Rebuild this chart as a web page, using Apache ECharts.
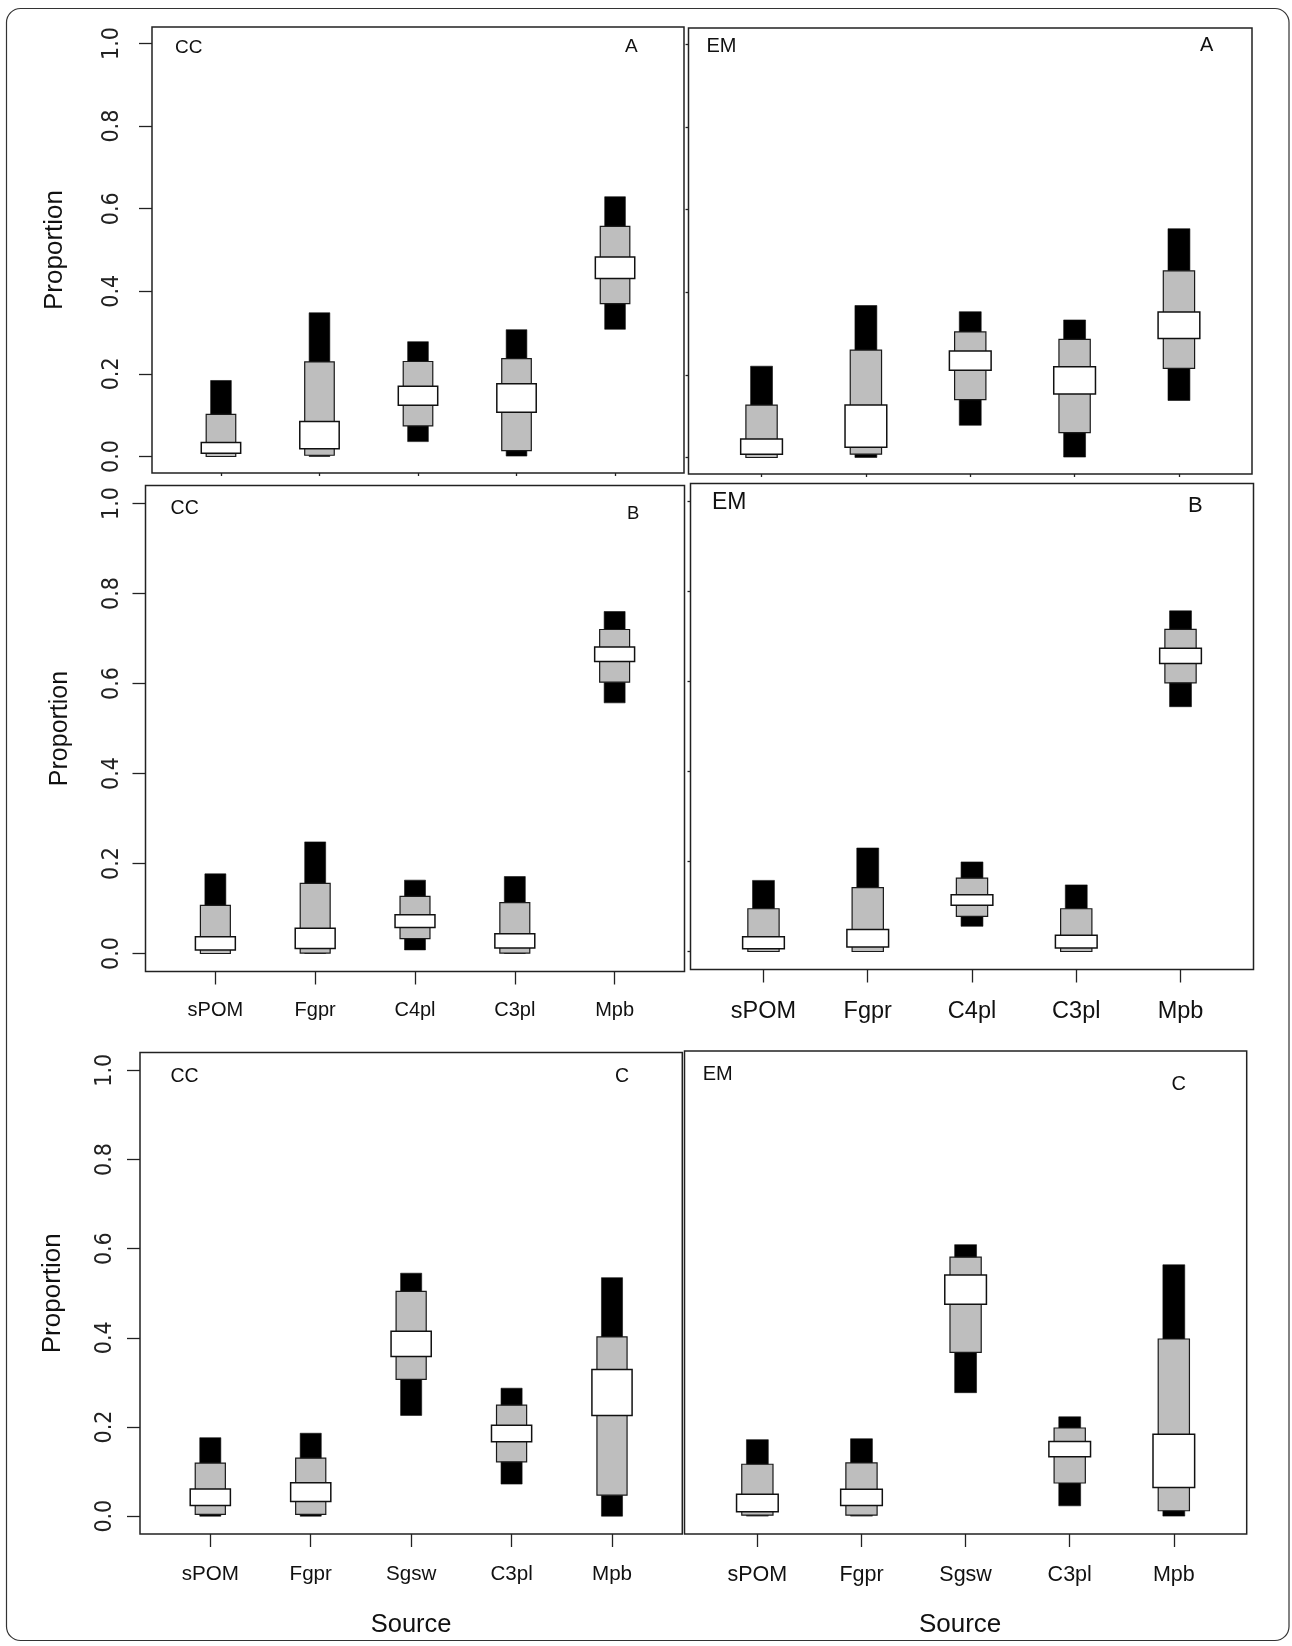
<!DOCTYPE html>
<html>
<head>
<meta charset="utf-8">
<script src="https://cdn.jsdelivr.net/npm/echarts@6/dist/echarts.min.js"></script>
<style>
  html, body { margin: 0; padding: 0; background: #fff; }
  #chart { width: 1292px; height: 1646px; }
</style>
</head>
<body>
<div id="chart"></div>
<script>
// ---------------- data ----------------
const catsAB = ['sPOM', 'Fgpr', 'C4pl', 'C3pl', 'Mpb'];
const catsC  = ['sPOM', 'Fgpr', 'Sgsw', 'C3pl', 'Mpb'];
const xPositions = [1, 2, 3, 4, 5];
const yTicks = [0, 0.2, 0.4, 0.6, 0.8, 1.0];

// credible intervals [low, high] per source: outer (black), middle (grey), inner (white)
const ccA_outer = [[0.000, 0.184], [0.000, 0.348], [0.036, 0.278], [0.001, 0.307], [0.308, 0.629]];
const ccA_mid   = [[0.000, 0.102], [0.003, 0.229], [0.074, 0.230], [0.014, 0.237], [0.370, 0.557]];
const ccA_inner = [[0.008, 0.034], [0.019, 0.085], [0.124, 0.170], [0.107, 0.176], [0.431, 0.483]];

const emA_outer = [[0.000, 0.221], [0.000, 0.368], [0.078, 0.353], [0.001, 0.333], [0.138, 0.554]];
const emA_mid   = [[0.000, 0.127], [0.008, 0.260], [0.140, 0.304], [0.060, 0.286], [0.216, 0.452]];
const emA_inner = [[0.008, 0.045], [0.025, 0.127], [0.211, 0.258], [0.154, 0.220], [0.288, 0.352]];

const ccB_outer = [[0.000, 0.177], [0.000, 0.248], [0.008, 0.163], [0.000, 0.171], [0.557, 0.760]];
const ccB_mid   = [[0.000, 0.107], [0.001, 0.156], [0.033, 0.127], [0.001, 0.113], [0.603, 0.720]];
const ccB_inner = [[0.008, 0.037], [0.011, 0.056], [0.058, 0.086], [0.012, 0.044], [0.649, 0.681]];

const emB_outer = [[0.000, 0.158], [0.000, 0.230], [0.056, 0.199], [0.000, 0.148], [0.544, 0.757]];
const emB_mid   = [[0.000, 0.095], [0.000, 0.142], [0.078, 0.163], [0.000, 0.095], [0.597, 0.716]];
const emB_inner = [[0.006, 0.033], [0.010, 0.049], [0.103, 0.126], [0.008, 0.036], [0.640, 0.674]];

const ccC_outer = [[0.000, 0.176], [0.000, 0.186], [0.226, 0.545], [0.072, 0.287], [0.000, 0.535]];
const ccC_mid   = [[0.004, 0.119], [0.004, 0.130], [0.307, 0.504], [0.122, 0.249], [0.047, 0.402]];
const ccC_inner = [[0.024, 0.061], [0.033, 0.075], [0.358, 0.415], [0.167, 0.204], [0.226, 0.329]];

const emC_outer = [[0.000, 0.171], [0.000, 0.173], [0.276, 0.607], [0.023, 0.222], [0.000, 0.562]];
const emC_mid   = [[0.002, 0.116], [0.002, 0.119], [0.366, 0.579], [0.074, 0.197], [0.012, 0.396]];
const emC_inner = [[0.010, 0.049], [0.024, 0.060], [0.474, 0.539], [0.133, 0.167], [0.064, 0.183]];

const siteLabels  = ['CC', 'EM', 'CC', 'EM', 'CC', 'EM'];
const panelLabels = ['A', 'A', 'B', 'B', 'C', 'C'];
const yName = 'Proportion';
const xName = 'Source';

// ---------------- layout ----------------
const FONT = 'Liberation Sans, Arial, Helvetica, sans-serif';
const NARROW = '"Liberation Sans Narrow", "Arial Narrow", "DejaVu Sans Condensed", "Liberation Sans", Arial, sans-serif';
const panels = [
  { grid: { left: 152, top: 27, width: 532, height: 446 }, cats: catsAB,
    outer: ccA_outer, mid: ccA_mid, inner: ccA_inner,
    y: { labels: true, tick: 13, margin: 28.3, fs: 23, nameGap: 84, nameFs: 26 },
    x: { labels: false, tick: 3 },
    t1: { left: 175, top: 38.2, fs: 19 }, t2: { left: 625, top: 37.7, fs: 19 } },
  { grid: { left: 688.5, top: 28, width: 563.5, height: 446 }, cats: catsAB,
    outer: emA_outer, mid: emA_mid, inner: emA_inner,
    y: { labels: false, tick: 3 },
    x: { labels: false, tick: 3 },
    t1: { left: 706.5, top: 36.4, fs: 20 }, t2: { left: 1200, top: 35.4, fs: 20 } },
  { grid: { left: 145.5, top: 485.5, width: 539, height: 486 }, cats: catsAB,
    outer: ccB_outer, mid: ccB_mid, inner: ccB_inner,
    y: { labels: true, tick: 13, margin: 22, fs: 23, nameGap: 72.6, nameFs: 25 },
    x: { labels: true, tick: 13, margin: 28.6, fs: 20 },
    t1: { left: 170.6, top: 498.6, fs: 19.5 }, t2: { left: 627, top: 504, fs: 18.5 } },
  { grid: { left: 690.5, top: 483.5, width: 563, height: 486 }, cats: catsAB,
    outer: emB_outer, mid: emB_mid, inner: emB_inner,
    y: { labels: false, tick: 3 },
    x: { labels: true, tick: 13, margin: 30.3, fs: 23.5 },
    t1: { left: 712, top: 491, fs: 23 }, t2: { left: 1188, top: 494.8, fs: 22 } },
  { grid: { left: 140, top: 1052.5, width: 542.3, height: 481.5 }, cats: catsC,
    outer: ccC_outer, mid: ccC_mid, inner: ccC_inner,
    y: { labels: true, tick: 13, margin: 23.4, fs: 23, nameGap: 74, nameFs: 26 },
    x: { labels: true, tick: 13, margin: 30, fs: 20.6, name: true, nameGap: 78, nameFs: 25.5, namePad: [0, 0, 0, 0] },
    t1: { left: 170.5, top: 1066.7, fs: 19.5 }, t2: { left: 615, top: 1066.7, fs: 19.5 } },
  { grid: { left: 684.5, top: 1051, width: 562.2, height: 483 }, cats: catsC,
    outer: emC_outer, mid: emC_mid, inner: emC_inner,
    y: { labels: false, tick: 0 },
    x: { labels: true, tick: 13, margin: 30, fs: 21.5, name: true, nameGap: 78, nameFs: 26, namePad: [0, 11, 0, 0] },
    t1: { left: 702.7, top: 1064, fs: 20 }, t2: { left: 1171.5, top: 1074.5, fs: 20 } }
];

const grids = [], xAxes = [], yAxes = [], series = [], titles = [];

function boxSeries(idx, intervals, halfWidth, fill, stroke, lw) {
  return {
    type: 'custom',
    xAxisIndex: idx,
    yAxisIndex: idx,
    silent: true,
    animation: false,
    clip: false,
    encode: { x: 0, y: [1, 2] },
    data: intervals.map((iv, i) => [xPositions[i], iv[0], iv[1]]),
    renderItem: function (params, api) {
      const x = api.value(0), lo = api.value(1), hi = api.value(2);
      const p1 = api.coord([x - halfWidth, hi]);
      const p2 = api.coord([x + halfWidth, lo]);
      return {
        type: 'rect',
        shape: { x: p1[0], y: p1[1], width: p2[0] - p1[0], height: p2[1] - p1[1] },
        style: { fill: fill, stroke: stroke, lineWidth: lw }
      };
    }
  };
}

panels.forEach((p, i) => {
  grids.push(Object.assign({ show: true, borderColor: '#222', borderWidth: 1.5,
    backgroundColor: 'transparent', outerBoundsMode: 'none', containLabel: false }, p.grid));

  const cats = p.cats;
  xAxes.push({
    gridIndex: i, type: 'value', min: 0.3, max: 5.7, position: 'bottom',
    axisLine: { show: false, onZero: false }, splitLine: { show: false },
    axisTick: { show: p.x.tick > 0, length: p.x.tick, customValues: xPositions,
      lineStyle: { color: '#222', width: 1.3 } },
    axisLabel: { show: p.x.labels, customValues: xPositions, margin: p.x.margin || 8,
      fontSize: p.x.fs || 12, color: '#111', fontFamily: FONT,
      formatter: v => cats[Math.round(v) - 1] },
    name: p.x.name ? xName : '', nameLocation: 'middle', nameGap: p.x.nameGap || 0,
    nameTextStyle: { fontSize: p.x.nameFs || 12, color: '#111', fontFamily: FONT,
      padding: p.x.namePad || [0, 0, 0, 0] }
  });

  yAxes.push({
    gridIndex: i, type: 'value', min: -0.04, max: 1.04, position: 'left',
    axisLine: { show: false, onZero: false }, splitLine: { show: false },
    axisTick: { show: p.y.tick > 0, length: p.y.tick, customValues: yTicks,
      lineStyle: { color: '#222', width: 1.3 } },
    axisLabel: { show: p.y.labels, customValues: yTicks, rotate: 90, margin: p.y.margin || 8,
      fontSize: p.y.fs || 12, color: '#222', fontFamily: NARROW,
      formatter: v => Number(v).toFixed(1) },
    name: p.y.labels ? yName : '', nameLocation: 'middle', nameRotate: 90, nameGap: p.y.nameGap || 0,
    nameTextStyle: { fontSize: p.y.nameFs || 12, color: '#111', fontFamily: FONT }
  });

  series.push(boxSeries(i, p.outer, 0.105, '#000000', '#111111', 0.6));
  series.push(boxSeries(i, p.mid, 0.15, '#bebebe', '#1a1a1a', 1.2));
  series.push(boxSeries(i, p.inner, 0.2, '#ffffff', '#111111', 1.5));

  titles.push({ text: siteLabels[i], left: p.t1.left, top: p.t1.top, padding: 0,
    textStyle: { fontSize: p.t1.fs, fontWeight: 'normal', color: '#111', fontFamily: FONT } });
  titles.push({ text: panelLabels[i], left: p.t2.left, top: p.t2.top, padding: 0,
    textStyle: { fontSize: p.t2.fs, fontWeight: 'normal', color: '#111', fontFamily: FONT } });
});

const chart = echarts.init(document.getElementById('chart'), null, { renderer: 'canvas' });
chart.setOption({
  backgroundColor: '#ffffff',
  animation: false,
  title: titles,
  grid: grids,
  xAxis: xAxes,
  yAxis: yAxes,
  series: series,
  graphic: [{
    type: 'rect', z: -10, silent: true,
    shape: { x: 6.5, y: 8.5, width: 1282.5, height: 1632, r: 14 },
    style: { fill: 'none', stroke: '#333', lineWidth: 1.2 }
  }]
});
</script>
</body>
</html>
